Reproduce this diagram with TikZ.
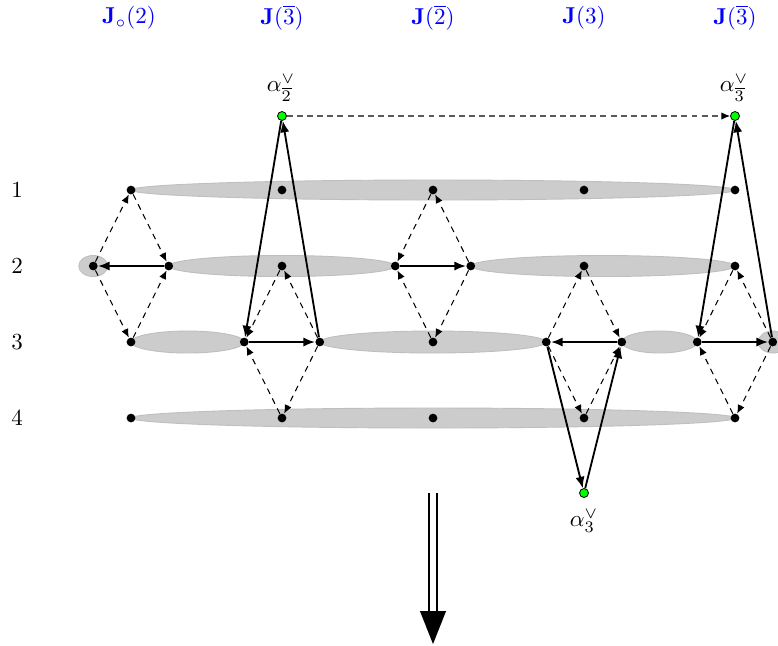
\documentclass[tikz,border=0pt]{standalone}
\usetikzlibrary{arrows.meta,shapes.geometric}
\begin{document}
\begin{tikzpicture}[x=0.435pt,y=-0.435pt,
  dot/.style={circle,fill=black,inner sep=0pt,minimum size=3.8pt},
  gdot/.style={circle,fill=green,draw=black,line width=0.35pt,inner sep=0pt,minimum size=3.9pt},
  blob/.style={fill=gray!40,draw=gray!50,line width=0.4pt},
  dsh/.style={dash pattern=on 2.6pt off 2.2pt,line width=0.45pt,-{Latex[length=3.8pt,width=3.2pt]}},
  topdsh/.style={draw=black!65,dash pattern=on 2.6pt off 1.8pt,line width=0.5pt,-{Latex[length=3.8pt,width=3.2pt,fill=black,color=black]}},
  sld/.style={line width=0.8pt,-{Latex[length=5pt,width=4pt]}},
  toplbl/.style={text=blue},
  rowlbl/.style={text=black},
]
\useasboundingbox (0,0) rectangle (778,645);
% gray blobs
\fill[blob] (433,190) ellipse [x radius=302, y radius=10];
\fill[blob] (93.25,266) ellipse [x radius=14.5, y radius=10.5];
\fill[blob] (282,266) ellipse [x radius=113.25, y radius=10.5];
\fill[blob] (602.9,266) ellipse [x radius=132.1, y radius=10.5];
\fill[blob] (187.6,342) ellipse [x radius=56.6, y radius=11];
\fill[blob] (433,342) ellipse [x radius=113.25, y radius=11];
\fill[blob] (659.5,342) ellipse [x radius=37.75, y radius=11];
\fill[blob] (772.75,342) ellipse [x radius=14.5, y radius=11];
\fill[blob] (433,418) ellipse [x radius=302, y radius=10];
% dots
\foreach \r/\ks in {1/{1,5,9,13,17}, 2/{0,2,5,8,10,13,17}, 3/{1,4,6,9,12,14,16,18}, 4/{1,5,9,13,17}}
  \foreach \k in \ks
    \node[dot] (n\r-\k) at ({93.25+\k*37.75},{114+\r*76}) {};
\node[gdot] (g2) at (282,116) {};
\node[gdot] (g3b) at (735,116) {};
\node[gdot] (g3) at (584,493) {};
% labels
\node[toplbl] (t1) at (129,18) {$\mathbf{J}_\circ(2)$};
\node[toplbl] (t2) at (282,18) {$\mathbf{J}(\overline{3})$};
\node[toplbl] (t3) at (433,18) {$\mathbf{J}(\overline{2})$};
\node[toplbl] (t4) at (584,18) {$\mathbf{J}(3)$};
\node[toplbl] (t5) at (735,18) {$\mathbf{J}(\overline{3})$};
\foreach \r in {1,2,3,4}
  \node[rowlbl] (r\r) at (17,{114+\r*76}) {\r};
\node (la2) at (281,88) {$\alpha^\vee_{\overline{2}}$};
\node (la3b) at (734,88) {$\alpha^\vee_{\overline{3}}$};
\node (la3) at (584,521) {$\alpha^\vee_{3}$};
% top dashed
\draw[topdsh] (g2) -- (g3b);
% diamond 1
\draw[dsh] (n2-0) -- (n1-1);
\draw[dsh] (n1-1) -- (n2-2);
\draw[dsh] (n3-1) -- (n2-2);
\draw[dsh] (n2-0) -- (n3-1);
\draw[sld] (n2-2) -- (n2-0);
% diamond 2
\draw[dsh] (n3-6) -- (n2-5);
\draw[dsh] (n2-5) -- (n3-4);
\draw[dsh] (n4-5) -- (n3-4);
\draw[dsh] (n3-6) -- (n4-5);
\draw[sld] (n3-4) -- (n3-6);
\draw[sld] (g2) -- (n3-4);
\draw[sld] (n3-6) -- (g2);
% diamond 3
\draw[dsh] (n2-10) -- (n1-9);
\draw[dsh] (n1-9) -- (n2-8);
\draw[dsh] (n3-9) -- (n2-8);
\draw[dsh] (n2-10) -- (n3-9);
\draw[sld] (n2-8) -- (n2-10);
% diamond 4
\draw[dsh] (n3-12) -- (n2-13);
\draw[dsh] (n2-13) -- (n3-14);
\draw[dsh] (n3-12) -- (n4-13);
\draw[dsh] (n4-13) -- (n3-14);
\draw[sld] (n3-14) -- (n3-12);
\draw[sld] (n3-12) -- (g3);
\draw[sld] (g3) -- (n3-14);
% diamond 5
\draw[dsh] (n3-18) -- (n2-17);
\draw[dsh] (n2-17) -- (n3-16);
\draw[dsh] (n4-17) -- (n3-16);
\draw[dsh] (n3-18) -- (n4-17);
\draw[sld] (n3-16) -- (n3-18);
\draw[sld] (g3b) -- (n3-16);
\draw[sld] (n3-18) -- (g3b);
% big double arrow
\coordinate (dS) at (433,493);
\coordinate (dM) at (433,611);
\coordinate (dE) at (433,644);
\draw[line width=0.65pt,double=white,double distance=2.9pt] (dS) -- (dM);
\fill ([xshift=-5.7pt]dM) -- ([xshift=5.7pt]dM) -- (dE) -- cycle;
\end{tikzpicture}
\end{document}
